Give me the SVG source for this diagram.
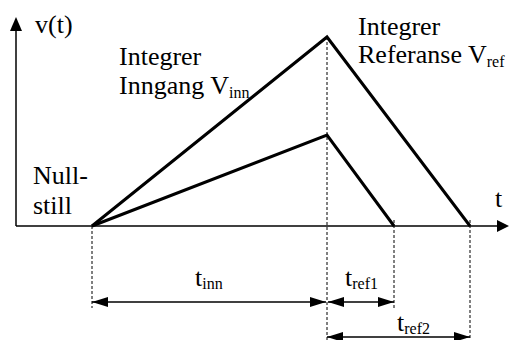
<svg xmlns="http://www.w3.org/2000/svg" width="510" height="340" viewBox="0 0 510 340">
<style>
text{font-family:"Liberation Serif","Times New Roman",serif;font-size:26px;fill:#000}
.sub{font-size:16px}
.axis{stroke:#000;stroke-width:1.5;fill:none}
.ramp{stroke:#000;stroke-width:3;fill:none;stroke-linejoin:miter}
.dash{stroke:#000;stroke-width:1;stroke-dasharray:3,2;fill:none}
.dim{stroke:#000;stroke-width:1.5;fill:none;marker-start:url(#ah);marker-end:url(#ah)}
</style>
<defs>
<marker id="ah" viewBox="0 0 16 10" refX="16" refY="5" markerWidth="16" markerHeight="10" markerUnits="userSpaceOnUse" orient="auto-start-reverse">
<path d="M0,0 L16,5 L0,10 Z" fill="#000"/>
</marker>
</defs>
<g id="axes">
<line class="axis" x1="16" y1="226" x2="498" y2="226"/>
<path d="M497,220 L509,226 L497,232 Z" fill="#000"/>
<line class="axis" x1="16" y1="226" x2="16" y2="30"/>
<path d="M10,31 L16,17 L22,31 Z" fill="#000"/>
</g>
<g id="connectors">
<polyline class="ramp" points="92,226 327,37 470,226"/>
<polyline class="ramp" points="92,226 327,135 394,226"/>
<line class="dash" x1="92" y1="226" x2="92" y2="308"/>
<line class="dash" x1="327" y1="37" x2="327" y2="340"/>
<line class="dash" x1="394" y1="220" x2="394" y2="308"/>
<line class="dash" x1="470" y1="220" x2="470" y2="340"/>
<line class="dim" x1="92" y1="302" x2="326" y2="302"/>
<line class="dim" x1="328" y1="302" x2="394" y2="302"/>
<line class="dim" x1="327" y1="337" x2="470" y2="337"/>
</g>
<g id="labels">
<text x="35" y="33">v(t)</text>
<text x="495" y="207">t</text>
<text x="119" y="65">Integrer</text>
<text x="119" y="94">Inngang V<tspan class="sub" dy="4">inn</tspan></text>
<text x="358" y="35">Integrer</text>
<text x="358" y="63">Referanse V<tspan class="sub" dy="4">ref</tspan></text>
<text x="33" y="184">Null-</text>
<text x="33" y="214">still</text>
<text x="195" y="286">t<tspan class="sub" dy="3">inn</tspan></text>
<text x="345" y="286">t<tspan class="sub" dy="3">ref1</tspan></text>
<text x="397" y="331">t<tspan class="sub" dy="3">ref2</tspan></text>
</g>
</svg>
